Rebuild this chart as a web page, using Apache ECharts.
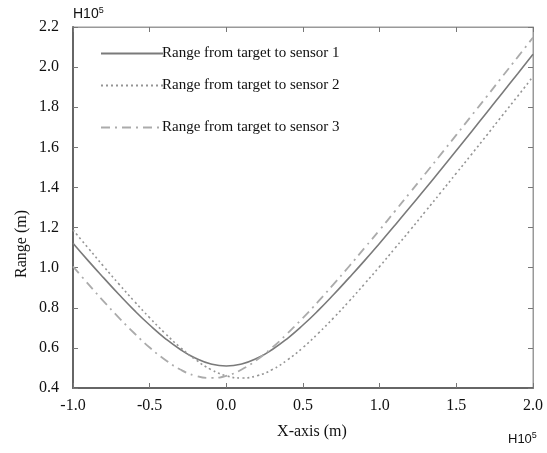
<!DOCTYPE html>
<html>
<head>
<meta charset="utf-8">
<title>Range from target to sensors</title>
<script src="https://cdn.jsdelivr.net/npm/echarts@6/dist/echarts.min.js"></script>
<style>
  html, body { margin: 0; padding: 0; background: #fff; }
  #chart { width: 547px; height: 453px; }
</style>
</head>
<body>
<div id="chart"></div>
<script>
// Target position along the X-axis (units of 1e5 m)
var xPositions = [-1.0, -0.9, -0.8, -0.7, -0.6, -0.5, -0.4, -0.3, -0.2, -0.1,
                  0.0, 0.1, 0.2, 0.3, 0.4, 0.5, 0.6, 0.7, 0.8, 0.9,
                  1.0, 1.1, 1.2, 1.3, 1.4, 1.5, 1.6, 1.7, 1.8, 1.9, 2.0];

// Range from target to each sensor (units of 1e5 m)
var rangeSensor1 = [1.122, 1.034, 0.949, 0.866, 0.787, 0.714, 0.648, 0.592, 0.548, 0.520,
                    0.510, 0.520, 0.548, 0.592, 0.648, 0.714, 0.787, 0.866, 0.949, 1.034,
                    1.122, 1.212, 1.304, 1.396, 1.490, 1.584, 1.679, 1.775, 1.871, 1.967, 2.064];
var rangeSensor2 = [1.188, 1.097, 1.006, 0.918, 0.832, 0.750, 0.673, 0.602, 0.541, 0.492,
                    0.461, 0.450, 0.461, 0.492, 0.541, 0.602, 0.673, 0.750, 0.832, 0.918,
                    1.006, 1.097, 1.188, 1.282, 1.376, 1.471, 1.566, 1.662, 1.759, 1.855, 1.953];
var rangeSensor3 = [1.006, 0.918, 0.832, 0.750, 0.673, 0.602, 0.541, 0.492, 0.461, 0.450,
                    0.461, 0.492, 0.541, 0.602, 0.673, 0.750, 0.832, 0.918, 1.006, 1.097,
                    1.188, 1.282, 1.376, 1.471, 1.566, 1.662, 1.759, 1.855, 1.953, 2.050, 2.148];

var seriesNames = ['Range from target to sensor 1',
                   'Range from target to sensor 2',
                   'Range from target to sensor 3'];

function pairs(ys) {
  return xPositions.map(function (x, i) { return [x, ys[i]]; });
}

var serif = '"Liberation Serif", "Times New Roman", serif';
var sans = '"Liberation Sans", Arial, sans-serif';

var chart = echarts.init(document.getElementById('chart'), null, { renderer: 'canvas' });

var gridBox = { left: 73, right: 14, top: 27, bottom: 65 };

function legendAt(top, name) {
  return {
    left: 95, top: top, orient: 'vertical',
    itemWidth: 62, itemHeight: 14, itemGap: 0,
    data: [name],
    itemStyle: { opacity: 0 },
    textStyle: { fontFamily: serif, fontSize: 15, color: '#111', padding: [0, 0, 0, -6] },
    selectedMode: false
  };
}

var tickStyle = { show: true, inside: true, length: 5, lineStyle: { color: '#777', width: 1 } };

chart.setOption({
  backgroundColor: '#fff',
  animation: false,
  grid: Object.assign({ show: true, borderColor: '#999', borderWidth: 1, backgroundColor: '#fff' }, gridBox),
  legend: [
    legendAt(41, seriesNames[0]),
    legendAt(73, seriesNames[1]),
    legendAt(115, seriesNames[2])
  ],
  xAxis: [{
    type: 'value', min: -1, max: 2, interval: 0.5,
    axisLine: { show: true, onZero: false, lineStyle: { color: '#666', width: 2 } },
    axisTick: tickStyle,
    splitLine: { show: false },
    axisLabel: {
      margin: 10, color: '#111', fontFamily: serif, fontSize: 16,
      formatter: function (v) { return v.toFixed(1); }
    }
  }, {
    type: 'value', min: -1, max: 2, interval: 0.5, position: 'top',
    axisLine: { show: true, onZero: false, lineStyle: { color: '#999', width: 1 } },
    axisTick: tickStyle, axisLabel: { show: false }, splitLine: { show: false }
  }],
  yAxis: [{
    type: 'value', min: 0.4, max: 2.2, interval: 0.2,
    axisLine: { show: true, onZero: false, lineStyle: { color: '#666', width: 2 } },
    axisTick: tickStyle,
    splitLine: { show: false },
    axisLabel: {
      margin: 14, color: '#111', fontFamily: serif, fontSize: 16,
      formatter: function (v) { return v.toFixed(1); }
    }
  }, {
    type: 'value', min: 0.4, max: 2.2, interval: 0.2, position: 'right',
    axisLine: { show: true, onZero: false, lineStyle: { color: '#999', width: 1 } },
    axisTick: tickStyle, axisLabel: { show: false }, splitLine: { show: false }
  }],
  series: [{
    name: seriesNames[0], type: 'line', data: pairs(rangeSensor1),
    smooth: true, showSymbol: false, symbol: 'none',
    lineStyle: { color: '#7a7a7a', width: 1.6, type: 'solid' },
    itemStyle: { color: '#7a7a7a' }
  }, {
    name: seriesNames[1], type: 'line', data: pairs(rangeSensor2),
    smooth: true, showSymbol: false, symbol: 'none',
    lineStyle: { color: '#959595', width: 1.6, type: [2, 3] },
    itemStyle: { color: '#959595' }
  }, {
    name: seriesNames[2], type: 'line', data: pairs(rangeSensor3),
    smooth: true, showSymbol: false, symbol: 'none',
    lineStyle: { color: '#ababab', width: 1.8, type: [9, 5, 2, 5] },
    itemStyle: { color: '#ababab' }
  }],
  graphic: [{
    type: 'text', left: 73, top: 6,
    style: {
      text: '{b|H10}{s|5}',
      rich: {
        b: { fontFamily: sans, fontSize: 14, fill: '#111' },
        s: { fontFamily: sans, fontSize: 9, fill: '#111', verticalAlign: 'top', padding: [0, 0, 8, 0] }
      }
    }
  }, {
    type: 'text', left: 508, top: 431,
    style: {
      text: '{b|H10}{s|5}',
      rich: {
        b: { fontFamily: sans, fontSize: 13, fill: '#111' },
        s: { fontFamily: sans, fontSize: 9, fill: '#111', verticalAlign: 'top', padding: [0, 0, 8, 0] }
      }
    }
  }, {
    type: 'text', x: 312, y: 432,
    style: { text: 'X-axis (m)', fontFamily: serif, fontSize: 16, fill: '#111', align: 'center', verticalAlign: 'middle' }
  }, {
    type: 'text', x: 22, y: 244, rotation: Math.PI / 2,
    style: { text: 'Range (m)', fontFamily: serif, fontSize: 16, fill: '#111', align: 'center', verticalAlign: 'middle' }
  }]
});
</script>
</body>
</html>
